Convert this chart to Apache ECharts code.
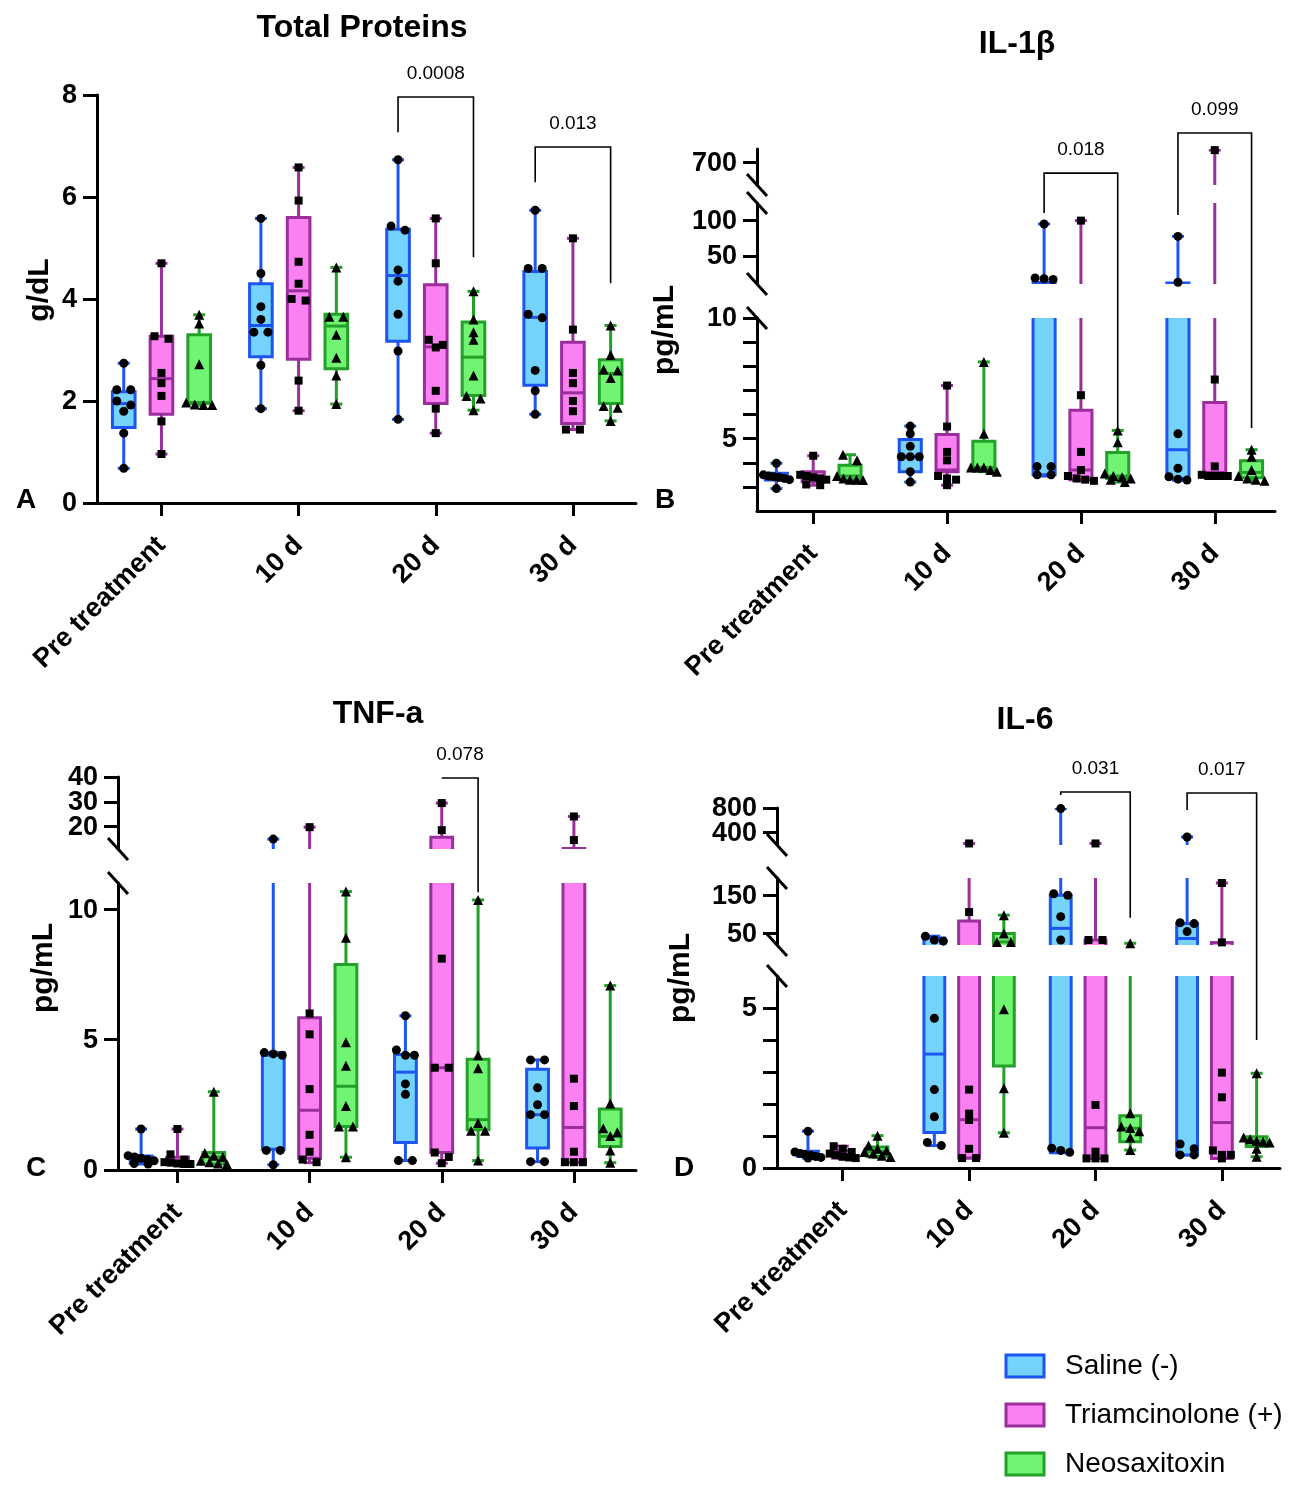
<!DOCTYPE html>
<html>
<head>
<meta charset="utf-8">
<script src="https://cdn.jsdelivr.net/npm/echarts@6/dist/echarts.min.js"></script>
<style>
  html, body { margin: 0; background: #fff; }
  #main { width: 1292px; height: 1488px; }
</style>
</head>
<body>
<div id="main"></div>
<script>
// ---- data ----
const categories = ['Pre treatment', '10 d', '20 d', '30 d'];
const groupNames = ['Saline (-)', 'Triamcinolone (+)', 'Neosaxitoxin'];

// box stats per category: [min, Q1, median, Q3, max]
// A - Total Proteins (g/dL)
const tpSalineBox = [[0.68, 1.48, 1.95, 2.18, 2.74], [1.85, 2.87, 3.48, 4.30, 5.58], [1.64, 3.17, 4.46, 5.37, 6.73], [1.74, 2.31, 3.64, 4.54, 5.74]];
const tpTriamBox  = [[0.96, 1.74, 2.44, 3.27, 4.70], [1.81, 2.82, 4.16, 5.60, 6.58], [1.37, 1.95, 3.06, 4.28, 5.58], [1.44, 1.56, 2.16, 3.15, 5.19]];
const tpNeoBox    = [[1.92, 1.95, 1.97, 3.30, 3.69], [1.94, 2.63, 3.47, 3.70, 4.62], [1.82, 2.11, 2.86, 3.55, 4.15], [1.61, 1.95, 2.54, 2.81, 3.48]];
const tpSalinePts = [[2.74, 2.22, 2.22, 2.0, 1.92, 1.8, 1.37, 0.68], [5.58, 4.5, 3.85, 3.6, 3.35, 3.35, 2.7, 1.85], [6.73, 5.43, 5.35, 4.57, 4.35, 3.7, 2.98, 1.64], [5.74, 4.6, 4.6, 3.7, 3.63, 2.6, 2.2, 1.74]];
const tpTriamPts  = [[4.7, 3.27, 3.22, 2.55, 2.35, 2.1, 1.6, 0.96], [6.58, 5.93, 4.73, 4.3, 3.97, 4.0, 2.4, 1.81], [5.58, 4.7, 3.2, 3.1, 3.05, 2.2, 1.85, 1.37], [5.19, 3.4, 2.55, 2.35, 2.0, 1.8, 1.44, 1.44]];
const tpNeoPts    = [[3.69, 3.52, 2.72, 1.97, 1.93, 1.92, 1.92], [4.62, 3.65, 3.65, 3.3, 2.85, 2.5, 1.94], [4.15, 3.6, 3.35, 3.2, 2.5, 2.1, 2.05, 1.82], [3.48, 2.9, 2.62, 2.6, 2.45, 1.9, 1.87, 1.61]];

// B - IL-1beta (pg/mL)
const ilbSalineBox = [[2.93, 3.28, 3.42, 3.56, 3.98], [3.2, 3.63, 4.25, 4.96, 5.52], [3.45, 3.5, 10.5, 12.3, 95.2], [3.28, 3.35, 4.54, 11.5, 77.6]];
const ilbTriamBox  = [[3.07, 3.21, 3.42, 3.63, 4.29], [3.07, 3.63, 3.7, 5.17, 7.2], [3.25, 3.3, 3.7, 6.18, 100], [3.45, 3.45, 3.6, 6.5, 755]];
const ilbNeoBox    = [[3.28, 3.30, 3.45, 3.90, 4.33], [3.63, 3.66, 3.8, 4.89, 8.18], [3.2, 3.35, 3.45, 4.43, 5.34], [3.24, 3.38, 3.6, 4.08, 4.54]];
const ilbSalinePts = [[3.98, 3.5, 3.45, 3.42, 3.4, 3.35, 3.3, 2.93], [5.52, 5.2, 4.68, 4.25, 4.25, 4.25, 3.63, 3.2], [95.2, 18.5, 17.5, 16.5, 3.84, 3.84, 3.5, 3.5], [77.6, 12.5, 5.2, 3.77, 3.42, 3.32, 3.28]];
const ilbTriamPts  = [[4.29, 3.5, 3.45, 3.4, 3.35, 3.3, 3.1, 3.07], [7.2, 5.5, 4.45, 4.1, 3.45, 3.35, 3.3, 3.07], [100, 6.8, 4.45, 3.7, 3.45, 3.35, 3.3, 3.25], [755, 7.45, 3.85, 3.5, 3.45, 3.45, 3.45, 3.45]];
const ilbNeoPts    = [[4.33, 4.1, 3.45, 3.35, 3.3, 3.3, 3.28], [8.18, 5.2, 3.8, 3.8, 3.8, 3.7, 3.63], [5.34, 4.85, 3.55, 3.45, 3.4, 3.35, 3.3, 3.2], [4.54, 4.25, 3.7, 3.45, 3.35, 3.3, 3.25]];

// C - TNF-a (pg/mL)
const tnfSalineBox = [[0.23, 0.26, 0.41, 0.54, 1.57], [0.2, 0.8, 4.4, 4.5, 15.0], [0.36, 1.05, 3.75, 4.43, 5.91], [0.32, 0.84, 2.12, 3.86, 4.22]];
const tnfTriamBox  = [[0.23, 0.23, 0.28, 0.49, 1.57], [0.28, 0.45, 2.29, 5.84, 19.8], [0.26, 0.67, 3.92, 15.7, 29.5], [0.28, 0.28, 1.63, 11.2, 24.1]];
const tnfNeoBox    = [[0.23, 0.23, 0.5, 0.67, 3.0], [0.49, 1.67, 3.21, 7.88, 10.67], [0.36, 1.54, 1.93, 4.24, 10.35], [0.28, 0.9, 1.29, 2.34, 7.07]];
const tnfSalinePts = [[1.57, 0.55, 0.5, 0.45, 0.4, 0.35, 0.25, 0.23], [15.0, 4.5, 4.45, 4.4, 0.75, 0.75, 0.2], [5.91, 4.6, 4.4, 4.4, 3.3, 2.9, 0.36, 0.36], [4.22, 4.22, 3.15, 2.5, 2.12, 2.12, 0.32, 0.32]];
const tnfTriamPts  = [[1.57, 0.6, 0.4, 0.3, 0.28, 0.25, 0.23, 0.23], [19.8, 6.0, 5.2, 3.1, 1.35, 0.7, 0.4, 0.3], [29.5, 18.6, 8.1, 3.92, 3.92, 0.67, 0.5, 0.26], [24.1, 14.6, 3.5, 2.45, 0.7, 0.3, 0.3, 0.3]];
const tnfNeoPts    = [[3.0, 0.65, 0.55, 0.5, 0.35, 0.3, 0.25, 0.23], [10.67, 8.9, 4.9, 4.0, 2.45, 1.67, 1.67, 0.49], [10.35, 4.4, 3.9, 1.8, 1.5, 1.5, 0.36], [7.07, 2.55, 1.6, 1.45, 1.3, 0.75, 0.28]];

// D - IL-6 (pg/mL)
const il6SalineBox = [[0.31, 0.36, 0.47, 0.52, 1.15], [0.7, 1.11, 3.56, 38, 43], [0.48, 0.48, 63.5, 150, 790], [0.41, 0.41, 37, 76, 330]];
const il6TriamBox  = [[0.31, 0.31, 0.42, 0.55, 0.68], [0.31, 0.31, 1.51, 83, 225], [0.3, 0.3, 1.26, 33, 225], [0.3, 0.3, 1.42, 26.8, 182]];
const il6NeoBox    = [[0.34, 0.36, 0.52, 0.66, 1.01], [1.1, 3.19, 28, 50, 98], [0.56, 0.82, 1.24, 1.63, 24.4], [0.35, 0.67, 0.85, 0.98, 2.96]];
const il6SalinePts = [[1.15, 0.5, 0.45, 0.42, 0.4, 0.36, 0.33, 0.31], [43, 33, 30, 4.68, 2.45, 1.6, 0.8, 0.7], [790, 154, 150, 94, 33, 0.62, 0.55, 0.49], [330, 78, 76, 55, 0.75, 0.6, 0.41, 0.41]];
const il6TriamPts  = [[0.68, 0.6, 0.5, 0.45, 0.4, 0.35, 0.33, 0.31], [225, 106, 2.45, 1.7, 1.5, 0.6, 0.31, 0.31], [225, 33, 33, 1.97, 0.51, 0.3, 0.3, 0.3], [182, 26.8, 2.98, 2.21, 0.55, 0.41, 0.41, 0.3]];
const il6NeoPts    = [[1.01, 0.7, 0.6, 0.55, 0.5, 0.45, 0.38, 0.34], [98, 50, 28, 28, 4.96, 2.49, 1.1], [24.4, 1.71, 1.3, 1.25, 1.15, 0.95, 0.56], [2.96, 0.95, 0.9, 0.85, 0.82, 0.8, 0.6, 0.35]];

// axis ticks / labels
const tpTicks = [0, 2, 4, 6, 8];
const ilbTopTicks = [700];
const ilbMidTicks = [50, 100];
const ilbLowTicks = [3, 4, 5, 6, 7, 8, 9, 10];
const ilbLowLabels = [5, 10];
const tnfTopTicks = [20, 30, 40];
const tnfLowTicks = [0, 5, 10];
const il6TopTicks = [400, 800];
const il6MidTicks = [50, 150];
const il6LowTicks = [0, 1, 2, 3, 4, 5];
const il6LowLabels = [0, 5];

// significance brackets: [segment, value] for the top bar and both leg ends
const brackets = [
  { panel: 0, cat: 2, from: 0, to: 2, top: [0, 7.96], left: [0, 7.27], right: [0, 4.82], label: '0.0008' },
  { panel: 0, cat: 3, from: 0, to: 2, top: [0, 6.98], left: [0, 6.29], right: [0, 4.31], label: '0.013' },
  { panel: 1, cat: 2, from: 0, to: 2, top: [0, 653], left: [1, 110.8], right: [2, 5.48], label: '0.018' },
  { panel: 1, cat: 3, from: 0, to: 2, top: [0, 831], left: [1, 108], right: [2, 5.44], label: '0.099' },
  { panel: 2, cat: 2, from: 1, to: 2, top: [0, 39.6], left: [0, 39.6], right: [1, 10.65], label: '0.078' },
  { panel: 3, cat: 2, from: 0, to: 2, top: [0, 1059], left: [0, 1010], right: [1, 91], label: '0.031' },
  { panel: 3, cat: 3, from: 0, to: 2, top: [0, 1043], left: [0, 768], right: [2, 4.0], label: '0.017' }
];

// ---- styles / layout ----
const FONT = 'Liberation Sans, Arial, sans-serif';
const strokeColors = ['#1d55f2', '#9a2f9c', '#23a028'];
const fillColors = ['#75d3fb', '#fb80f2', '#72f473'];
const symbols = ['circle', 'rect', 'triangle'];
const symbolSizes = [9, 8, 10];
const groupOffsets = [-0.275, 0, 0.275];
const boxWidth = 0.165;
const capW = 12;

const panels = [
  { title: 'Total Proteins', titleAt: [362, 28], yName: 'g/dL', yNameAt: [40, 290], letter: 'A', letterAt: [26, 500],
    left: 97, width: 539, xMin: -0.47, xMax: 3.46,
    boxes: [tpSalineBox, tpTriamBox, tpNeoBox], pts: [tpSalinePts, tpTriamPts, tpNeoPts],
    segs: [{ min: 0, max: 8, top: 95, height: 408, ticks: tpTicks, labels: tpTicks }] },
  { title: 'IL-1β', titleAt: [1017, 44], yName: 'pg/mL', yNameAt: [665, 330], letter: 'B', letterAt: [665, 500],
    left: 757, width: 518, xMin: -0.42, xMax: 3.45,
    boxes: [ilbSalineBox, ilbTriamBox, ilbNeoBox], pts: [ilbSalinePts, ilbTriamPts, ilbNeoPts],
    segs: [
      { min: 600, max: 760, top: 149, height: 36, ticks: ilbTopTicks, labels: ilbTopTicks },
      { min: 10, max: 125, top: 203, height: 81, ticks: ilbMidTicks, labels: ilbMidTicks },
      { min: 2, max: 10, top: 318, height: 193, ticks: ilbLowTicks, labels: ilbLowLabels }
    ] },
  { title: 'TNF-a', titleAt: [378, 714], yName: 'pg/mL', yNameAt: [44, 968], letter: 'C', letterAt: [36, 1168],
    left: 118, width: 518, xMin: -0.45, xMax: 3.47,
    boxes: [tnfSalineBox, tnfTriamBox, tnfNeoBox], pts: [tnfSalinePts, tnfTriamPts, tnfNeoPts],
    segs: [
      { min: 11, max: 40, top: 777, height: 72, ticks: tnfTopTicks, labels: tnfTopTicks },
      { min: 0, max: 11, top: 883, height: 287, ticks: tnfLowTicks, labels: tnfLowTicks }
    ] },
  { title: 'IL-6', titleAt: [1025, 720], yName: 'pg/mL', yNameAt: [681, 978], letter: 'D', letterAt: [684, 1168],
    left: 777, width: 503, xMin: -0.52, xMax: 3.46,
    boxes: [il6SalineBox, il6TriamBox, il6NeoBox], pts: [il6SalinePts, il6TriamPts, il6NeoPts],
    segs: [
      { min: 200, max: 800, top: 808, height: 37, ticks: il6TopTicks, labels: il6TopTicks },
      { min: 20, max: 195, top: 878, height: 67, ticks: il6MidTicks, labels: il6MidTicks },
      { min: 0, max: 6, top: 976, height: 192, ticks: il6LowTicks, labels: il6LowLabels }
    ] }
];

function renderBox(params, api) {
  const x = api.value(0);
  const g = api.value(6);
  const cs = params.coordSys;
  const inside = y => y >= cs.y - 0.5 && y <= cs.y + cs.height + 0.5;
  const lo = api.coord([x, api.value(1)]);
  const q1 = api.coord([x, api.value(2)]);
  const md = api.coord([x, api.value(3)]);
  const q3 = api.coord([x, api.value(4)]);
  const hi = api.coord([x, api.value(5)]);
  const w = api.size([boxWidth, 0])[0];
  const line = (x1, y1, x2, y2) => ({
    type: 'line', shape: { x1, y1, x2, y2 },
    style: { stroke: strokeColors[g], lineWidth: 3, fill: null }
  });
  const children = [line(lo[0], lo[1], hi[0], hi[1])];
  if (inside(lo[1])) children.push(line(lo[0] - capW / 2, lo[1], lo[0] + capW / 2, lo[1]));
  if (inside(hi[1])) children.push(line(hi[0] - capW / 2, hi[1], hi[0] + capW / 2, hi[1]));
  children.push({
    type: 'rect', shape: { x: q3[0] - w / 2, y: q3[1], width: w, height: q1[1] - q3[1] },
    style: { fill: fillColors[g], stroke: strokeColors[g], lineWidth: 3 }
  });
  if (inside(md[1])) children.push(line(md[0] - w / 2, md[1], md[0] + w / 2, md[1]));
  return { type: 'group', children };
}

// spread points with similar values side by side (pixel offsets)
function spread(values, seg) {
  const k = seg.height / (seg.max - seg.min);
  const items = values.map(v => ({ v, y: v * k })).sort((a, b) => b.y - a.y);
  const out = [];
  let cluster = [];
  const flush = () => {
    const n = cluster.length;
    const gap = n === 2 ? 14 : Math.min(9, 26 / Math.max(n - 1, 1));
    cluster.forEach((it, i) => out.push([it.v, (i - (n - 1) / 2) * gap]));
    cluster = [];
  };
  items.forEach(it => {
    if (cluster.length && cluster[0].y - it.y > 6) flush();
    cluster.push(it);
  });
  flush();
  return out;
}

const grids = [], xAxes = [], yAxes = [], series = [];
const black = '#000';

panels.forEach(p => {
  const unitPx = p.width / (p.xMax - p.xMin);
  p.segs.forEach((s, si) => {
    const gi = grids.length;
    s.gridIndex = gi;
    const isBottom = si === p.segs.length - 1;
    grids.push({ left: p.left, top: s.top, width: p.width, height: s.height, outerBoundsMode: 'none' });
    xAxes.push({
      type: 'value', gridIndex: gi, min: p.xMin, max: p.xMax, show: isBottom,
      splitLine: { show: false },
      axisLine: { show: true, onZero: false, lineStyle: { color: black, width: 3 } },
      axisTick: { show: true, customValues: [0, 1, 2, 3], length: 13, lineStyle: { color: black, width: 3 } },
      axisLabel: {
        customValues: [0, 1, 2, 3], formatter: v => categories[Math.round(v)], hideOverlap: false,
        rotate: 45, margin: 38, color: black, fontSize: 27, fontWeight: 'bold', fontFamily: FONT
      }
    });
    yAxes.push({
      type: 'value', gridIndex: gi, min: s.min, max: s.max,
      splitLine: { show: false },
      axisLine: { show: true, onZero: false, lineStyle: { color: black, width: 3 } },
      axisTick: { show: true, customValues: s.ticks, length: 14, lineStyle: { color: black, width: 3 } },
      // tick labels are placed below (graphic) so close values are never dropped
      axisLabel: { show: false }
    });

    const boxData = [];
    p.boxes.forEach((gb, g) => gb.forEach((b, c) => boxData.push([c + groupOffsets[g], ...b, g])));
    series.push({
      type: 'custom', xAxisIndex: gi, yAxisIndex: gi, clip: true, z: 2,
      renderItem: renderBox, encode: { x: 0, y: [1, 2, 3, 4, 5] }, data: boxData, silent: true
    });

    p.pts.forEach((gp, g) => {
      const data = [];
      gp.forEach((vals, c) => {
        const inSeg = vals.filter(v => v >= s.min && v <= s.max);
        spread(inSeg, s).forEach(([v, dx]) => data.push([c + groupOffsets[g] + dx / unitPx, v]));
      });
      series.push({
        type: 'scatter', name: groupNames[g], xAxisIndex: gi, yAxisIndex: gi, z: 5,
        symbol: symbols[g], symbolSize: symbolSizes[g],
        itemStyle: { color: black, opacity: 1 }, data, silent: true
      });
    });
  });
});

const chart = echarts.init(document.getElementById('main'));
chart.setOption({
  animation: false,
  backgroundColor: '#fff',
  grid: grids, xAxis: xAxes, yAxis: yAxes, series
});

// annotations: tick labels, titles, axis names, letters, axis breaks, brackets, legend
const gfx = [];
const txt = (x, y, text, size, weight, extra) => Object.assign({
  type: 'text', x, y, z: 10,
  style: { text, fill: black, font: weight + ' ' + size + 'px ' + FONT, align: 'center', verticalAlign: 'middle' }
}, extra || {});

panels.forEach(p => {
  gfx.push(txt(p.titleAt[0], p.titleAt[1], p.title, 32, 'bold'));
  gfx.push(txt(p.yNameAt[0], p.yNameAt[1], p.yName, 30, 'bold', { rotation: Math.PI / 2 }));
  gfx.push(txt(p.letterAt[0], p.letterAt[1], p.letter, 28, 'bold'));
  p.segs.forEach((s, si) => {
    // y tick labels from the segment's own scale
    s.labels.forEach(v => {
      const pt = chart.convertToPixel({ gridIndex: s.gridIndex }, [p.xMin, v]);
      gfx.push({
        type: 'text', x: pt[0] - 20, y: pt[1] + 1, z: 10,
        style: { text: String(v), fill: black, font: 'bold 27px ' + FONT, align: 'right', verticalAlign: 'middle' }
      });
    });
    // break marks at inner segment ends
    const ends = [];
    if (si > 0) ends.push(s.top);
    if (si < p.segs.length - 1) ends.push(s.top + s.height);
    ends.forEach(y => gfx.push({
      type: 'line', z: 10,
      shape: { x1: p.left - 10, y1: y - 11, x2: p.left + 10, y2: y + 11 },
      style: { stroke: black, lineWidth: 3 }
    }));
  });
});

brackets.forEach(b => {
  const p = panels[b.panel];
  const px = (seg, x, v) => chart.convertToPixel({ gridIndex: p.segs[seg].gridIndex }, [x, v]);
  const xl = b.cat + groupOffsets[b.from], xr = b.cat + groupOffsets[b.to];
  const tl = px(b.top[0], xl, b.top[1]);
  const tr = px(b.top[0], xr, b.top[1]);
  const l = px(b.left[0], xl, b.left[1]);
  const r = px(b.right[0], xr, b.right[1]);
  gfx.push({
    type: 'polyline', z: 10,
    shape: { points: [l, tl, tr, r] },
    style: { stroke: black, lineWidth: 1.6, fill: null }
  });
  gfx.push(txt((tl[0] + tr[0]) / 2, tl[1] - 23, b.label, 19, 'normal'));
});

groupNames.forEach((name, g) => {
  const cy = 1366 + g * 49;
  gfx.push({
    type: 'rect', z: 10, shape: { x: 1006, y: cy - 11, width: 38, height: 22 },
    style: { fill: fillColors[g], stroke: strokeColors[g], lineWidth: 3 }
  });
  gfx.push(txt(1065, cy, name, 28, 'normal', {
    style: { text: name, fill: black, font: '28px ' + FONT, align: 'left', verticalAlign: 'middle' }
  }));
});

chart.setOption({ graphic: gfx });
</script>
</body>
</html>
